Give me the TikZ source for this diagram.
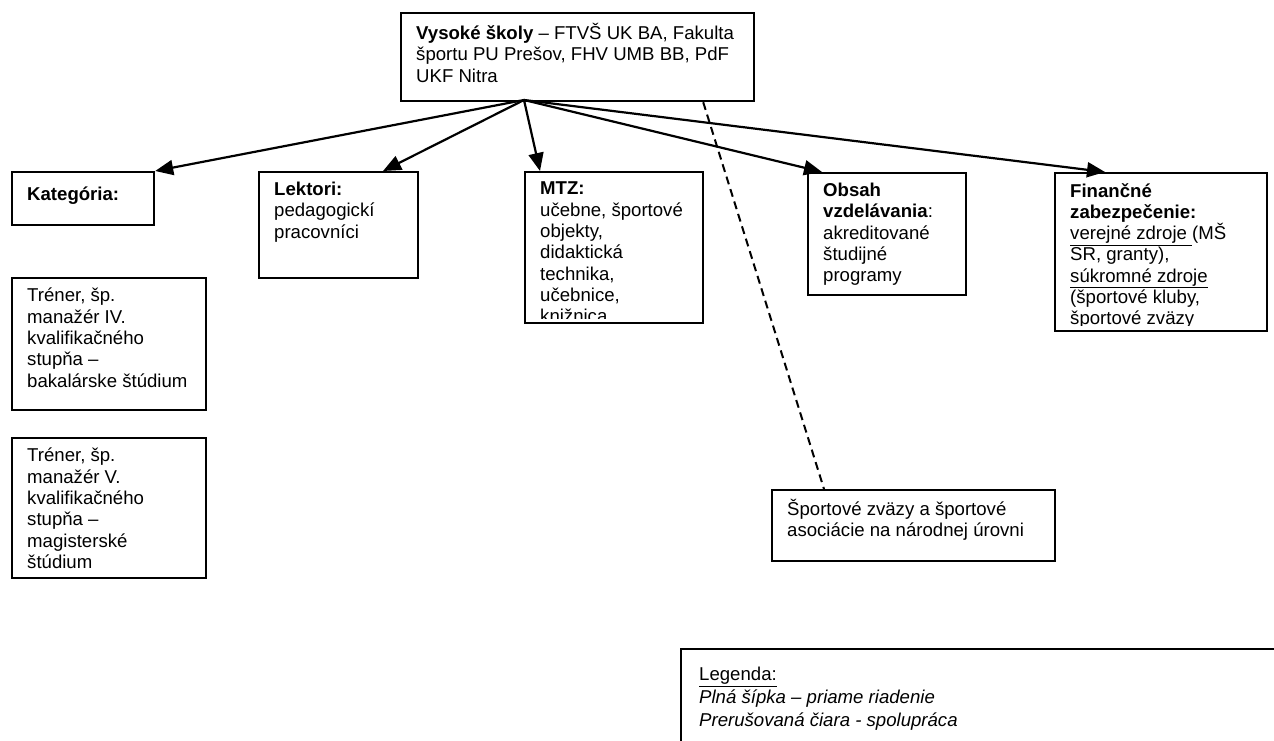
\documentclass[tikz,border=0pt]{standalone}
\usepackage{fontspec}
\setmainfont{Liberation Sans}
\usetikzlibrary{arrows.meta}

\begin{document}
\begin{tikzpicture}[
  x=1pt, y=-1pt,
  box/.style={draw, line width=2.2pt, anchor=north west, inner sep=0pt},
  box_text/.style={anchor=north west, align=left, inner sep=0pt,
    font=\fontsize{18.6}{21.3}\selectfont,
    execute at begin node={\rule{0pt}{18pt}}},
  full_arrow/.style={line width=2.2pt, -{Triangle[length=18pt,width=15pt]}},
  dash_line/.style={line width=2pt, dash pattern=on 8pt off 5pt}
  ]
	\useasboundingbox (0,0) rectangle (1274,741);
	\clip (0,0) rectangle (1274,741);

	% boxes
	\node[box, minimum width=353pt, minimum height=88pt] (skoly) at (400,12) {};
	\node[box, minimum width=142pt, minimum height=53pt] (kategoria) at (11,171) {};
	\node[box, minimum width=159pt, minimum height=106pt] (lektori) at (258,171) {};
	\node[box, minimum width=178pt, minimum height=151pt] (mtz) at (524,171) {};
	\node[box, minimum width=158pt, minimum height=122pt] (obsah) at (807,172) {};
	\node[box, minimum width=212pt, minimum height=158pt] (financie) at (1054,172) {};
	\node[box, minimum width=194pt, minimum height=132pt] (trener4) at (11,277) {};
	\node[box, minimum width=194pt, minimum height=140pt] (trener5) at (11,437) {};
	\node[box, minimum width=283pt, minimum height=71pt] (zvazy) at (771,489) {};

	% texts
	\node[box_text] (skoly_t) at (416,23) {\textbf{Vysoké školy} – FTVŠ UK BA, Fakulta\\ športu PU Prešov, FHV UMB BB, PdF\\ UKF Nitra};
	\node[box_text] (kategoria_t) at (27,182) {\textbf{Kategória:}};
	\node[box_text] (lektori_t) at (274,182) {\textbf{Lektori:}\\ pedagogickí\\ pracovníci};
	\begin{scope}
		\clip (524,171) rectangle (702,318);
		\node[box_text] (mtz_t) at (540,182) {\textbf{MTZ:}\\ učebne, športové\\ objekty,\\ didaktická\\ technika,\\ učebnice,\\ knižnica};
	\end{scope}
	\node[box_text] (obsah_t) at (823,183) {\textbf{Obsah}\\ \textbf{vzdelávania}:\\ akreditované\\ študijné\\ programy};
	\begin{scope}
		\clip (1054,172) rectangle (1266,325);
		\node[box_text] (financie_t) at (1070,183) {\textbf{Finančné}\\ \textbf{zabezpečenie:}\\ \underline{verejné zdroje\ }(MŠ\\ SR, granty),\\ \underline{súkromné zdroje}\\ (športové kluby,\\ športové zväzy};
	\end{scope}
	\node[box_text] (trener4_t) at (27,288) {Tréner, šp.\\ manažér IV.\\ kvalifikačného\\ stupňa –\\ bakalárske štúdium};
	\node[box_text] (trener5_t) at (27,448) {Tréner, šp.\\ manažér V.\\ kvalifikačného\\ stupňa –\\ magisterské\\ štúdium};
	\node[box_text] (zvazy_t) at (787,499) {Športové zväzy a športové\\ asociácie na národnej úrovni};

	% arrows
	\coordinate (hub) at (524,100);
	\draw[full_arrow] (hub) -- (kategoria.north east);
	\draw[full_arrow] (hub) -- ([xshift=125pt]lektori.north west);
	\draw[full_arrow] (hub) -- ([xshift=16pt]mtz.north west);
	\draw[full_arrow] (hub) -- ([xshift=15pt]obsah.north west);
	\draw[full_arrow] (hub) -- ([xshift=51pt]financie.north west);
	\draw[dash_line] ([xshift=-52pt]skoly.south east) -- ([xshift=53pt]zvazy.north west);

	% legend
	\coordinate (legenda) at (681,649);
	\draw[line width=2.2pt] (681,760) -- (legenda) -- (1290,649);
	\node[box_text] (legenda_t) at (699,667) {\underline{Legenda:}\\[1.5pt] \textit{Plná šípka – priame riadenie}\\[1.5pt] \textit{Prerušovaná čiara - spolupráca}};
\end{tikzpicture}
\end{document}
